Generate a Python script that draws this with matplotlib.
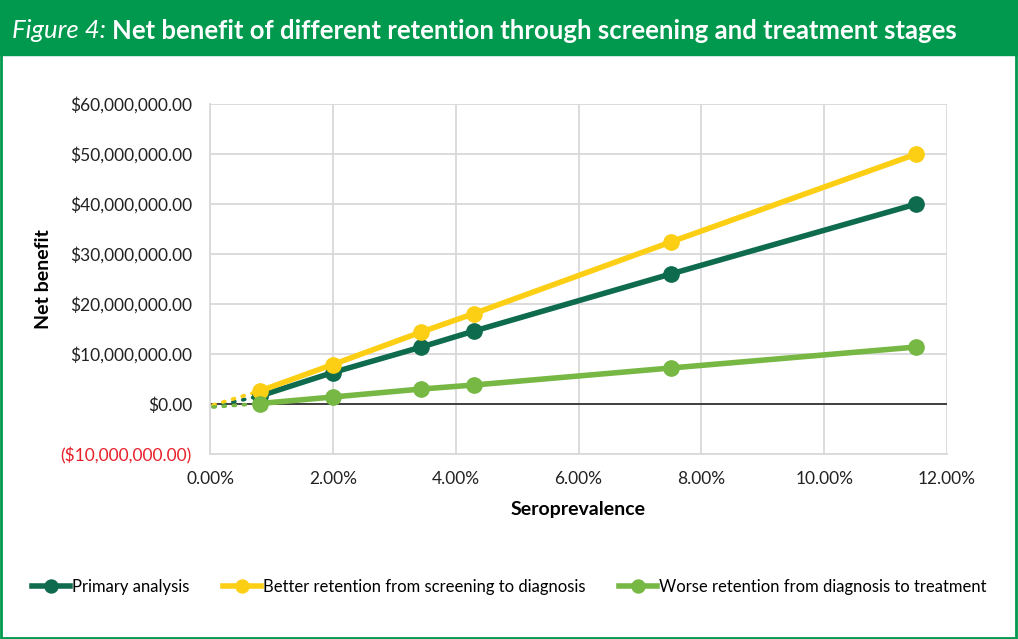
import matplotlib
matplotlib.use("Agg")
import matplotlib.pyplot as plt
from matplotlib.patches import Rectangle
from matplotlib.ticker import FuncFormatter

plt.rcParams['font.family'] = ['Lato', 'DejaVu Sans']

# seroprevalence (%) and net benefit ($)
prevalence = [0.81, 2.0, 3.44, 4.3, 7.5, 11.5]
primary = [1.6e6, 6.3e6, 11.4e6, 14.6e6, 26.0e6, 40.0e6]
better = [2.6e6, 7.9e6, 14.4e6, 18.1e6, 32.4e6, 50.0e6]
worse = [0.1e6, 1.4e6, 3.0e6, 3.8e6, 7.2e6, 11.4e6]

# dotted trend back toward the origin
trend_x = [0.05, 0.81]
trend_primary = [-0.5e6, 1.6e6]
trend_better = [-0.2e6, 2.6e6]
trend_worse = [-0.6e6, 0.1e6]

labels = ["Primary analysis", "Better retention from screening to diagnosis",
          "Worse retention from diagnosis to treatment"]
colors = ["#0E6B4D", "#FCCF14", "#76B843"]
series = [primary, better, worse]
trends = [trend_primary, trend_better, trend_worse]

fig = plt.figure(figsize=(10.18, 6.39), dpi=100)

# green banner and frame
banner_green = "#00994D"
fig.patches.append(Rectangle((0, 1 - 55 / 639), 1, 55 / 639, transform=fig.transFigure,
                             color=banner_green, zorder=0))
fig.patches.append(Rectangle((0.001, 0.002), 0.997, 0.996, transform=fig.transFigure,
                             fill=False, edgecolor=banner_green, linewidth=2, zorder=1))
t1 = fig.text(0.012, 1 - 31 / 639, "Figure 4:", color="white", fontsize=18.5, style="italic",
              va="center", ha="left")
fig.canvas.draw()
bb = t1.get_window_extent().transformed(fig.transFigure.inverted())
fig.text(bb.x1 + 0.006, 1 - 31 / 639,
         "Net benefit of different retention through screening and treatment stages",
         color="white", fontsize=18.5, fontweight="bold", va="center", ha="left")

ax = fig.add_axes([0.2063, 0.2895, 0.724, 0.5477])

for ty, c in zip(trends, colors):
    ax.plot(trend_x, ty, linestyle=(0, (0.6, 2.2)), color=c, linewidth=2.6, zorder=3,
            dash_capstyle="round")

for y, c, lab in zip(series, colors, labels):
    ax.plot(prevalence, y, color=c, linewidth=4, marker="o", markersize=11, label=lab, zorder=4)

ax.axhline(0, color="#333333", linewidth=1.3, zorder=2)

ax.set_xlim(0, 12)
ax.set_ylim(-10e6, 60e6)
ax.set_xticks([0, 2, 4, 6, 8, 10, 12])
ax.set_yticks([-10e6, 0, 10e6, 20e6, 30e6, 40e6, 50e6, 60e6])
ax.xaxis.set_major_formatter(FuncFormatter(lambda v, p: "{:.2f}%".format(v)))


def money(v, p):
    if v < 0:
        return "(${:,.2f})".format(-v)
    return "${:,.2f}".format(v)


ax.yaxis.set_major_formatter(FuncFormatter(money))
ax.tick_params(length=0, labelsize=12.5, colors="#222222")
ax.tick_params(axis="y", pad=13)
ax.tick_params(axis="x", pad=12)
ax.grid(True, color="#D9D9D9", linewidth=1.3, zorder=0)
for s in ["top", "right"]:
    ax.spines[s].set_visible(False)
for s in ["left", "bottom"]:
    ax.spines[s].set_color("#D9D9D9")
    ax.spines[s].set_linewidth(1.3)

fig.canvas.draw()
for lbl in ax.get_yticklabels():
    if lbl.get_text().startswith("("):
        lbl.set_color("#E8202A")

ax.set_xlabel("Seroprevalence", fontsize=14, fontweight="bold", labelpad=10)
ax.set_ylabel("Net benefit", fontsize=14, fontweight="bold", labelpad=6)

fig.legend(loc="center", bbox_to_anchor=(0.5, 1 - 587 / 639), ncol=3, frameon=False,
           fontsize=12, handlelength=2.3, handletextpad=0.1, columnspacing=2.0,
           markerscale=0.85)

fig.savefig("out.png", dpi=100)
